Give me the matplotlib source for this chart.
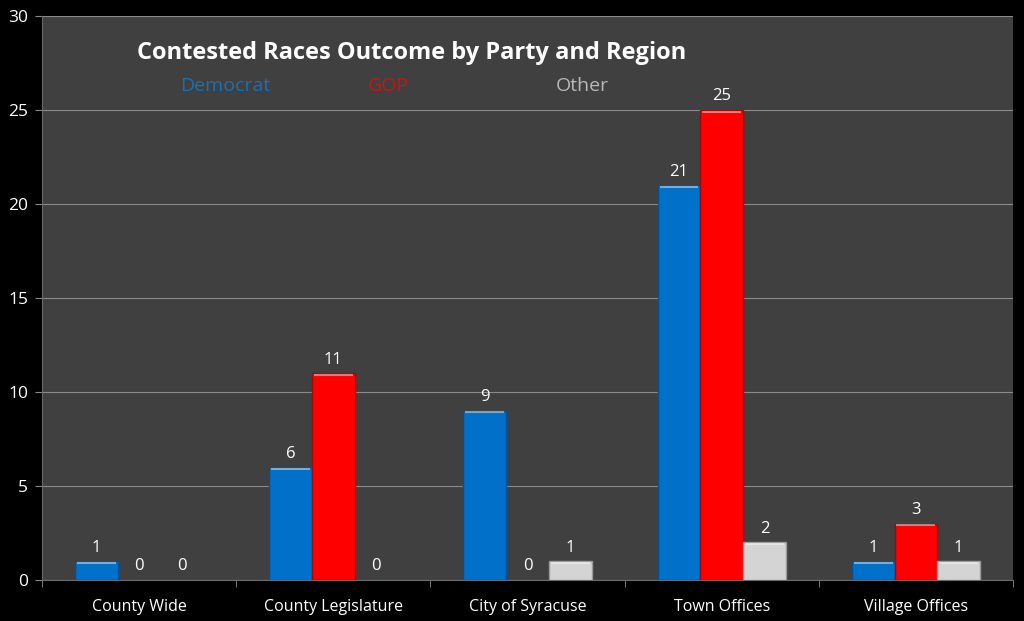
import numpy as np
import matplotlib.pyplot as plt

regions = ['County Wide', 'County Legislature', 'City of Syracuse', 'Town Offices', 'Village Offices']
democrat = [1, 6, 9, 21, 1]
gop = [0, 11, 0, 25, 3]
other = [0, 0, 1, 2, 1]

plt.rcParams['font.family'] = ['Open Sans', 'DejaVu Sans']

fig = plt.figure(figsize=(10.24, 6.21), dpi=100, facecolor='black')
ax = fig.add_axes([42/1024, 1 - 580/621, (1013-42)/1024, (580-16)/621])
ax.set_facecolor('#404040')

x = np.arange(len(regions))
w = 0.22
series = [(democrat, '#0070C8', '#00509a'), (gop, '#FF0000', '#b00000'), (other, '#D4D4D4', '#9a9a9a')]
for i, (vals, col, edge) in enumerate(series):
    pos = x + (i - 1) * w
    lws = [1 if v > 0 else 0 for v in vals]
    bars = ax.bar(pos, vals, w, color=col, edgecolor=edge, linewidth=lws, zorder=3)
    # light top edge for the bevel look
    for b, v in zip(bars, vals):
        if v > 0:
            ax.plot([b.get_x() + 0.01, b.get_x() + w - 0.01], [v - 0.08, v - 0.08],
                    color='white', alpha=0.45, lw=1.5, zorder=4, solid_capstyle='butt')
    for p, v in zip(pos, vals):
        ax.annotate(str(v), (p, v), xytext=(0, 4), textcoords='offset points',
                    ha='center', va='bottom', color='white', fontsize=12, zorder=5)

ax.set_xlim(-0.5, len(regions) - 0.5)
ax.set_ylim(0, 30)
ax.set_yticks(range(0, 31, 5))
ax.yaxis.grid(True, color='#8a8a8a', lw=0.8, zorder=0)
ax.set_xticks(x)
ax.set_xticklabels(regions)
ax.set_xticks(np.arange(len(regions) + 1) - 0.5, minor=True)
ax.tick_params(axis='x', which='major', length=0, colors='white', labelsize=11.5, pad=14)
ax.tick_params(axis='x', which='minor', length=5, color='#8a8a8a')
ax.tick_params(axis='y', length=5, color='#8a8a8a', labelcolor='white', labelsize=12.5, pad=5)
for s in ['top', 'right']:
    ax.spines[s].set_visible(False)
ax.spines['left'].set_color('#6a6a6a')
ax.spines['bottom'].set_color('#6a6a6a')

fig.text(412/1024, 1 - 53/621, 'Contested Races Outcome by Party and Region', color='white',
         fontsize=17, fontweight='bold', ha='center', va='center')
fig.text(225/1024, 1 - 86/621, 'Democrat', color='#1a6fb5', fontsize=14, ha='center', va='center')
fig.text(388/1024, 1 - 86/621, 'GOP', color='#c01818', fontsize=14, ha='center', va='center')
fig.text(582/1024, 1 - 86/621, 'Other', color='#b8b8b8', fontsize=14, ha='center', va='center')

fig.savefig('out.png', dpi=100, facecolor='black')
